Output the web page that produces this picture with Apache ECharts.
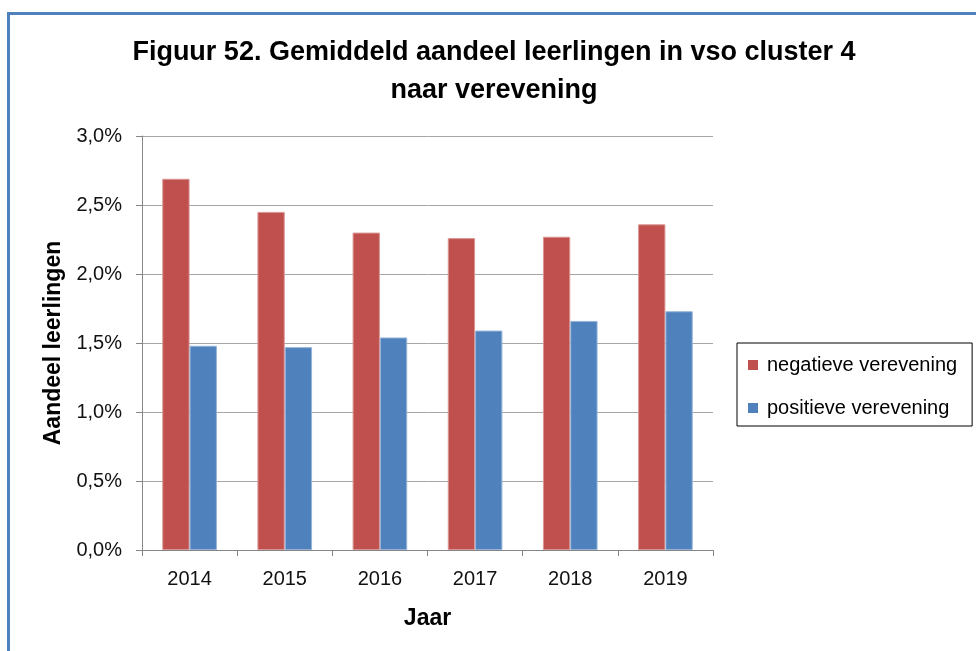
<!DOCTYPE html>
<html>
<head>
<meta charset="utf-8">
<script src="https://cdn.jsdelivr.net/npm/echarts@6/dist/echarts.min.js"></script>
<style>
  html, body { margin: 0; padding: 0; background: #fff; }
  #chart { width: 976px; height: 651px; }
</style>
</head>
<body>
<div id="chart"></div>
<script>
// Jaren en gemiddeld aandeel leerlingen (in %) per type verevening
const years = ['2014', '2015', '2016', '2017', '2018', '2019'];
const negatieveVerevening = [2.69, 2.45, 2.30, 2.26, 2.27, 2.36];
const positieveVerevening = [1.48, 1.47, 1.54, 1.59, 1.66, 1.73];
const seriesNames = ['negatieve verevening', 'positieve verevening'];

const FONT = '"Liberation Sans", Arial, sans-serif';

const chart = echarts.init(document.getElementById('chart'), null, { renderer: 'canvas' });

chart.setOption({
  backgroundColor: '#ffffff',
  animation: false,
  title: {
    text: 'Figuur 52. Gemiddeld aandeel leerlingen in vso cluster 4\nnaar verevening',
    left: 489,
    textAlign: 'center',
    top: 29,
    textStyle: {
      fontFamily: FONT,
      fontWeight: 'bold',
      fontSize: 27,
      lineHeight: 38,
      color: '#000000'
    }
  },
  // kader van de figuur (boven- en linkerrand)
  graphic: [{
    type: 'polyline',
    shape: { points: [[8.5, 651], [8.5, 13.5], [976, 13.5]] },
    style: { stroke: '#4F81BD', lineWidth: 3, fill: null }
  }],
  legend: {
    orient: 'vertical',
    left: 737,
    top: 343,
    padding: [12, 15, 8, 11],
    itemGap: 23,
    itemWidth: 10,
    itemHeight: 10,
    icon: 'rect',
    borderColor: '#000000',
    borderWidth: 1,
    itemStyle: { borderWidth: 0 },
    data: seriesNames,
    textStyle: { fontFamily: FONT, fontSize: 20, color: '#000000', padding: [0, 0, 0, 4] }
  },
  grid: { left: 142, right: 263, top: 136, bottom: 101, containLabel: false },
  xAxis: {
    type: 'category',
    data: years,
    name: 'Jaar',
    nameLocation: 'middle',
    nameGap: 57,
    nameTextStyle: { fontFamily: FONT, fontWeight: 'bold', fontSize: 23, color: '#000000' },
    axisLine: { lineStyle: { color: '#868686', width: 1 } },
    axisTick: { show: true, length: 6, lineStyle: { color: '#868686' } },
    axisLabel: { fontFamily: FONT, fontSize: 20, color: '#111111', margin: 19 },
    splitLine: { show: false }
  },
  yAxis: {
    type: 'value',
    min: 0,
    max: 3.0,
    interval: 0.5,
    name: 'Aandeel leerlingen',
    nameLocation: 'middle',
    nameGap: 76,
    nameRotate: 90,
    nameTextStyle: { fontFamily: FONT, fontWeight: 'bold', fontSize: 23, color: '#000000' },
    axisLine: { show: true, lineStyle: { color: '#868686', width: 1 } },
    axisTick: { show: true, length: 6, lineStyle: { color: '#868686' } },
    axisLabel: {
      fontFamily: FONT, fontSize: 20, color: '#111111', margin: 20,
      formatter: v => v.toFixed(1).replace('.', ',') + '%'
    },
    splitLine: { lineStyle: { color: '#A6A6A6', width: 1 } }
  },
  series: [
    {
      name: seriesNames[0],
      type: 'bar',
      data: negatieveVerevening,
      barGap: '0%',
      barCategoryGap: '42.6%',
      itemStyle: { color: '#C0504D', borderColor: '#D99694', borderWidth: 1 }
    },
    {
      name: seriesNames[1],
      type: 'bar',
      data: positieveVerevening,
      itemStyle: { color: '#4F81BD', borderColor: '#95B3D7', borderWidth: 1 }
    }
  ]
});
</script>
</body>
</html>
